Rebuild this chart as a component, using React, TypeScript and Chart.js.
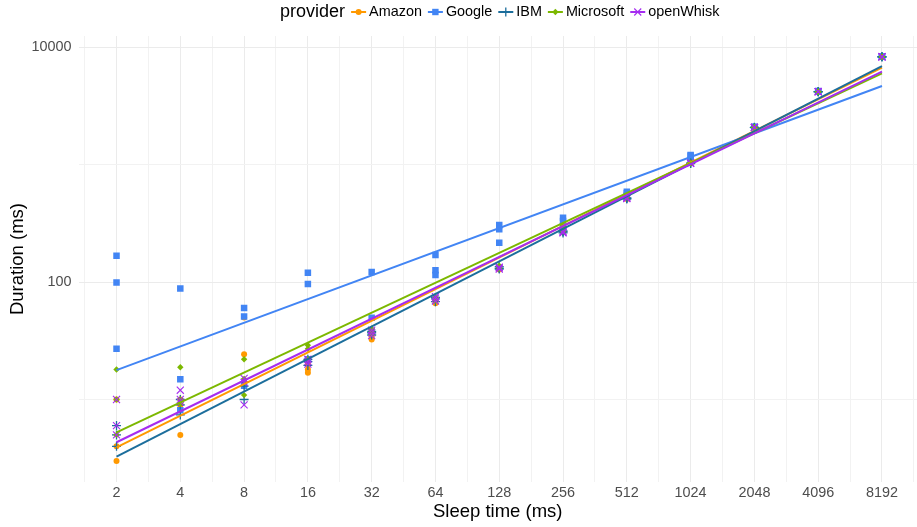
import React, { useEffect, useRef } from 'react';
import { Chart, registerables } from 'chart.js';

Chart.register(...registerables);

const providers = ['Amazon', 'Google', 'IBM', 'Microsoft', 'openWhisk'];
const providerColors = ['#FF9900', '#4285F4', '#1C6E9C', '#7CB800', '#A52CF0'];
const providerShapes = ['circle', 'rect', 'cross', 'rectRot', 'crossRot'];

const sleepTimes = [2, 4, 8, 16, 32, 64, 128, 256, 512, 1024, 2048, 4096, 8192];

const amazonDurations = [
  [10, 4.0, 3.0], [10, 5.0, 9], [24.3, 50, 14], [16.9, 18, 20], [32.5, 34, 36],
  [66, 70, 72], [130, 133, 128], [326, 270, 265], [520, 530, 510], [1030, 1025, 1040],
  [2070, 2060, 2080], [4150, 4170, 4180], [8250, 8260, 8240],
];
const googleDurations = [
  [167, 99, 27], [88, 14.9, 8.1], [60, 51, 13.1], [120, 96, 22], [122, 49.7, 38],
  [170, 126, 115], [305, 282, 216], [352, 330, 300], [587, 570, 545], [1205, 1190, 1100],
  [2100, 2090, 2080], [4220, 4200, 4190], [8300, 8280, 8270],
];
const ibmDurations = [
  [6, 4.0, 5], [7.4, 10, 9], [10, 13, 14], [19.5, 21, 22], [35.4, 37, 38],
  [68, 72, 74], [129, 135, 131], [262, 268, 272], [508, 515, 520], [1020, 1025, 1030],
  [2060, 2070, 2075], [4160, 4170, 4175], [8260, 8270, 8250],
];
const microsoftDurations = [
  [18, 10, 5.0], [18.8, 10, 9.2], [22, 15, 10.9], [29, 27, 22], [38, 36, 40],
  [75, 70, 72], [135, 130, 138], [275, 270, 300], [530, 525, 535], [1030, 1035, 1025],
  [2080, 2070, 2065], [4170, 4160, 4180], [8260, 8250, 8270],
];
const openWhiskDurations = [
  [10, 6, 5], [12, 10, 9.5], [15.1, 9.0, 14], [22, 21, 20], [37, 35, 39],
  [73, 69, 75], [132, 129, 134], [265, 262, 270], [512, 518, 522], [1022, 1028, 1032],
  [2075, 2065, 2070], [4165, 4175, 4170], [8255, 8265, 8260],
];
const providerDurations = [amazonDurations, googleDurations, ibmDurations, microsoftDurations, openWhiskDurations];

// fitted (log-log linear) trend values at the first and last sleep times
const fitStart = [3.92, 17.8, 3.26, 5.26, 4.33];
const fitEnd = [6670, 4660, 6890, 5970, 6170];

const xTickLabels = ['2', '4', '8', '16', '32', '64', '128', '256', '512', '1024', '2048', '4096', '8192'];
const yMajorTicks = [100, 10000];
const yMinorTicks = [10, 1000];
const yTickLabels = ['100', '10000'];

const FONT = "'Liberation Sans', Arial, Helvetica, sans-serif";

function drawMarker(ctx: CanvasRenderingContext2D, shape: string, x: number, y: number, color: string) {
  ctx.save();
  ctx.fillStyle = color;
  ctx.strokeStyle = color;
  ctx.beginPath();
  if (shape === 'circle') {
    ctx.arc(x, y, 3, 0, Math.PI * 2);
    ctx.fill();
  } else if (shape === 'rect') {
    ctx.fillRect(x - 3.2, y - 3.2, 6.4, 6.4);
  } else if (shape === 'cross') {
    ctx.lineWidth = 1.3;
    ctx.moveTo(x - 4.5, y); ctx.lineTo(x + 4.5, y);
    ctx.moveTo(x, y - 4.5); ctx.lineTo(x, y + 4.5);
    ctx.stroke();
  } else if (shape === 'rectRot') {
    ctx.moveTo(x - 3.2, y); ctx.lineTo(x, y - 3.2); ctx.lineTo(x + 3.2, y); ctx.lineTo(x, y + 3.2);
    ctx.closePath();
    ctx.fill();
  } else {
    ctx.lineWidth = 1.1;
    ctx.moveTo(x - 3.5, y - 3.5); ctx.lineTo(x + 3.5, y + 3.5);
    ctx.moveTo(x + 3.5, y - 3.5); ctx.lineTo(x - 3.5, y + 3.5);
    ctx.stroke();
  }
  ctx.restore();
}

const legendPlugin = {
  id: 'topLegend',
  afterDraw(chart: any) {
    const ctx: CanvasRenderingContext2D = chart.ctx;
    ctx.save();
    const titleFont = `18px ${FONT}`;
    const itemFont = `14.4px ${FONT}`;
    const keyW = 15;
    ctx.font = titleFont;
    const titleW = ctx.measureText('provider').width;
    ctx.font = itemFont;
    const widths = providers.map((p) => ctx.measureText(p).width);
    let total = titleW;
    widths.forEach((w) => { total += 6 + keyW + 3 + w; });
    const cx = (chart.chartArea.left + chart.chartArea.right) / 2 + 2;
    let x = cx - total / 2;
    const y = 12;
    ctx.textBaseline = 'middle';
    ctx.textAlign = 'left';
    ctx.fillStyle = '#000';
    ctx.font = titleFont;
    ctx.fillText('provider', x, y);
    x += titleW;
    ctx.font = itemFont;
    providers.forEach((p, i) => {
      x += 6;
      ctx.strokeStyle = providerColors[i];
      ctx.lineWidth = 2;
      ctx.beginPath();
      ctx.moveTo(x, y);
      ctx.lineTo(x + keyW, y);
      ctx.stroke();
      drawMarker(ctx, providerShapes[i], x + keyW / 2, y, providerColors[i]);
      x += keyW + 3;
      ctx.fillStyle = '#000';
      ctx.fillText(p, x, y + 0.5);
      x += widths[i];
    });
    ctx.restore();
  },
};

export default function App() {
  const canvasRef = useRef<HTMLCanvasElement | null>(null);

  useEffect(() => {
    document.body.style.margin = '0';
    const canvas = canvasRef.current;
    if (!canvas) return;

    const pointSets = providers.map((p, i) => ({
      label: p,
      data: sleepTimes.flatMap((s, j) =>
        providerDurations[i][j].map((d) => ({ x: Math.log2(s), y: Math.log10(d) }))
      ),
      pointStyle: providerShapes[i],
      pointRadius: [3, 4.6, 4.5, 3.2, 5][i],
      pointBorderWidth: [0, 0, 1.3, 0, 1.1][i],
      backgroundColor: providerColors[i],
      borderColor: providerColors[i],
      showLine: false,
      order: 10 + (4 - i),
    }));

    const lineSets = providers.map((p, i) => ({
      label: p + ' fit',
      data: [
        { x: Math.log2(sleepTimes[0]), y: Math.log10(fitStart[i]) },
        { x: Math.log2(sleepTimes[sleepTimes.length - 1]), y: Math.log10(fitEnd[i]) },
      ],
      showLine: true,
      pointRadius: 0,
      borderWidth: 2,
      borderColor: providerColors[i],
      backgroundColor: providerColors[i],
      order: 4 - i,
    }));

    const xMajor = sleepTimes.map((s) => Math.log2(s));
    const xMin = 0.404;
    const xMax = 13.549;
    const yMajor = yMajorTicks.map((v) => Math.log10(v));
    const yAll = [...yMinorTicks, ...yMajorTicks].map((v) => Math.log10(v)).sort((a, b) => a - b);

    const isMajorX = (v: number) => xMajor.some((m) => Math.abs(m - v) < 1e-6);
    const isMajorY = (v: number) => yMajor.some((m) => Math.abs(m - v) < 1e-6);

    const chart = new Chart(canvas, {
      type: 'scatter',
      data: { datasets: [...lineSets, ...pointSets] as any },
      plugins: [legendPlugin],
      options: {
        animation: false,
        responsive: false,
        events: [],
        layout: { autoPadding: false, padding: { top: 36, left: 0, right: 0, bottom: 0 } },
        plugins: { legend: { display: false }, tooltip: { enabled: false } },
        scales: {
          x: {
            type: 'linear',
            min: xMin,
            max: xMax,
            afterBuildTicks: (scale: any) => {
              const ticks: any[] = [];
              for (let v = 0.5; v <= xMax; v += 0.5) if (v >= xMin) ticks.push({ value: v });
              scale.ticks = ticks;
            },
            afterFit: (scale: any) => {
              scale.height = 45;
              scale.paddingLeft = 0;
              scale.paddingRight = 0;
            },
            border: { display: false },
            grid: {
              drawTicks: false,
              color: (c: any) => (c.tick && isMajorX(c.tick.value) ? '#EBEBEB' : '#F2F2F2'),
              lineWidth: 1,
            },
            ticks: {
              autoSkip: false,
              maxRotation: 0,
              padding: 2.5,
              color: '#4D4D4D',
              font: { family: FONT, size: 14.4 },
              callback: (value: any) => {
                const idx = xMajor.findIndex((m) => Math.abs(m - value) < 1e-6);
                return idx >= 0 ? xTickLabels[idx] : '';
              },
            },
            title: {
              display: true,
              text: 'Sleep time (ms)',
              color: '#000',
              font: { family: FONT, size: 18.5 },
              padding: { top: 0, bottom: 4 },
            },
          },
          y: {
            type: 'linear',
            min: 0.298,
            max: 4.094,
            afterBuildTicks: (scale: any) => {
              scale.ticks = yAll.map((v) => ({ value: v }));
            },
            afterFit: (scale: any) => {
              scale.width = 78.5;
              scale.paddingTop = 0;
              scale.paddingBottom = 0;
            },
            border: { display: false },
            grid: {
              drawTicks: false,
              color: (c: any) => (c.tick && isMajorY(c.tick.value) ? '#EBEBEB' : '#F2F2F2'),
              lineWidth: 1,
            },
            ticks: {
              autoSkip: false,
              padding: 7,
              color: '#4D4D4D',
              font: { family: FONT, size: 14.4 },
              callback: (value: any) => {
                const idx = yMajor.findIndex((m) => Math.abs(m - value) < 1e-6);
                return idx >= 0 ? yTickLabels[idx] : '';
              },
            },
            title: {
              display: true,
              text: 'Duration (ms)',
              color: '#000',
              font: { family: FONT, size: 18.5 },
              padding: { top: 7, bottom: 0 },
            },
          },
        },
      } as any,
    });

    return () => chart.destroy();
  }, []);

  return (
    <div style={{ width: 917, height: 527 }}>
      <canvas ref={canvasRef} width={917} height={527} />
    </div>
  );
}
